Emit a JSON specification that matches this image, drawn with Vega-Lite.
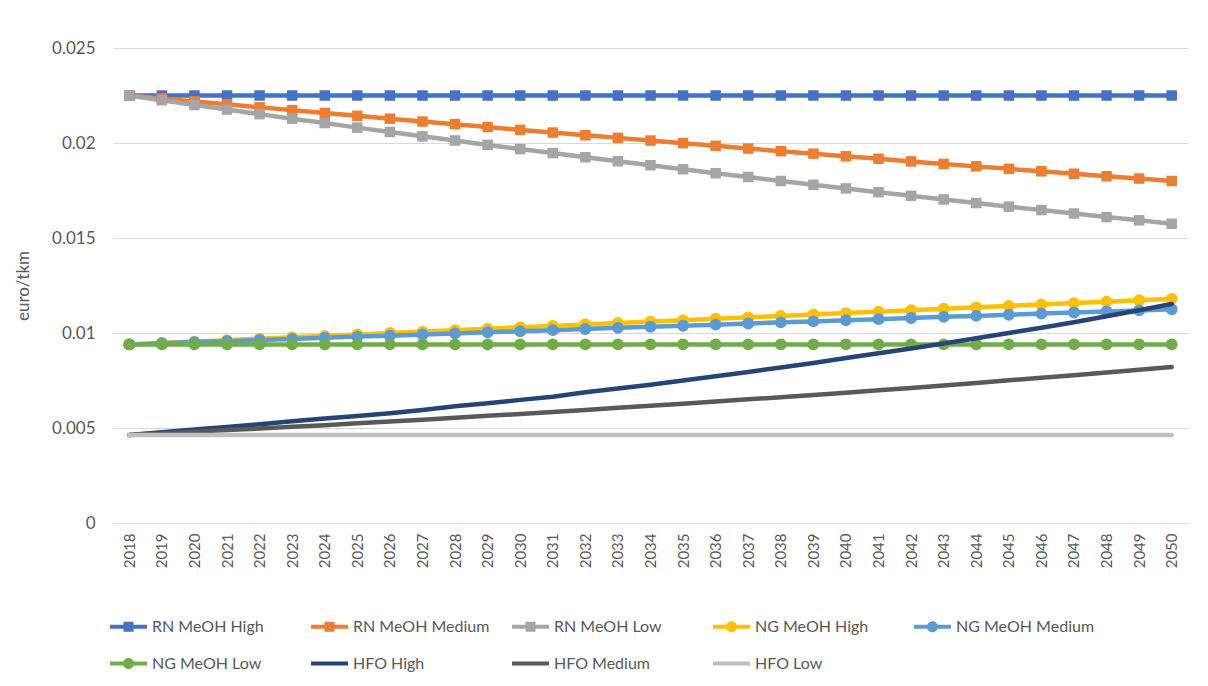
{
  "$schema": "https://vega.github.io/schema/vega-lite/v6.json",
  "width": 1075,
  "height": 475,
  "autosize": "none",
  "padding": {"left": 113, "top": 48, "right": 20, "bottom": 163},
  "background": "white",
  "config": {
    "font": "Lato",
    "view": {"stroke": null},
    "axis": {"labelColor": "#595959", "titleColor": "#595959", "labelFont": "Lato", "titleFont": "Lato"},
    "legend": {"labelColor": "#595959", "labelFont": "Lato"}
  },
  "data": {
    "values": [
      {"year": 2018, "series": "RN MeOH High", "value": 0.0225},
      {"year": 2019, "series": "RN MeOH High", "value": 0.0225},
      {"year": 2020, "series": "RN MeOH High", "value": 0.0225},
      {"year": 2021, "series": "RN MeOH High", "value": 0.0225},
      {"year": 2022, "series": "RN MeOH High", "value": 0.0225},
      {"year": 2023, "series": "RN MeOH High", "value": 0.0225},
      {"year": 2024, "series": "RN MeOH High", "value": 0.0225},
      {"year": 2025, "series": "RN MeOH High", "value": 0.0225},
      {"year": 2026, "series": "RN MeOH High", "value": 0.0225},
      {"year": 2027, "series": "RN MeOH High", "value": 0.0225},
      {"year": 2028, "series": "RN MeOH High", "value": 0.0225},
      {"year": 2029, "series": "RN MeOH High", "value": 0.0225},
      {"year": 2030, "series": "RN MeOH High", "value": 0.0225},
      {"year": 2031, "series": "RN MeOH High", "value": 0.0225},
      {"year": 2032, "series": "RN MeOH High", "value": 0.0225},
      {"year": 2033, "series": "RN MeOH High", "value": 0.0225},
      {"year": 2034, "series": "RN MeOH High", "value": 0.0225},
      {"year": 2035, "series": "RN MeOH High", "value": 0.0225},
      {"year": 2036, "series": "RN MeOH High", "value": 0.0225},
      {"year": 2037, "series": "RN MeOH High", "value": 0.0225},
      {"year": 2038, "series": "RN MeOH High", "value": 0.0225},
      {"year": 2039, "series": "RN MeOH High", "value": 0.0225},
      {"year": 2040, "series": "RN MeOH High", "value": 0.0225},
      {"year": 2041, "series": "RN MeOH High", "value": 0.0225},
      {"year": 2042, "series": "RN MeOH High", "value": 0.0225},
      {"year": 2043, "series": "RN MeOH High", "value": 0.0225},
      {"year": 2044, "series": "RN MeOH High", "value": 0.0225},
      {"year": 2045, "series": "RN MeOH High", "value": 0.0225},
      {"year": 2046, "series": "RN MeOH High", "value": 0.0225},
      {"year": 2047, "series": "RN MeOH High", "value": 0.0225},
      {"year": 2048, "series": "RN MeOH High", "value": 0.0225},
      {"year": 2049, "series": "RN MeOH High", "value": 0.0225},
      {"year": 2050, "series": "RN MeOH High", "value": 0.0225},

      {"year": 2018, "series": "RN MeOH Medium", "value": 0.02250},
      {"year": 2019, "series": "RN MeOH Medium", "value": 0.02234},
      {"year": 2020, "series": "RN MeOH Medium", "value": 0.02219},
      {"year": 2021, "series": "RN MeOH Medium", "value": 0.02204},
      {"year": 2022, "series": "RN MeOH Medium", "value": 0.02188},
      {"year": 2023, "series": "RN MeOH Medium", "value": 0.02173},
      {"year": 2024, "series": "RN MeOH Medium", "value": 0.02158},
      {"year": 2025, "series": "RN MeOH Medium", "value": 0.02143},
      {"year": 2026, "series": "RN MeOH Medium", "value": 0.02128},
      {"year": 2027, "series": "RN MeOH Medium", "value": 0.02113},
      {"year": 2028, "series": "RN MeOH Medium", "value": 0.02099},
      {"year": 2029, "series": "RN MeOH Medium", "value": 0.02084},
      {"year": 2030, "series": "RN MeOH Medium", "value": 0.02069},
      {"year": 2031, "series": "RN MeOH Medium", "value": 0.02055},
      {"year": 2032, "series": "RN MeOH Medium", "value": 0.02041},
      {"year": 2033, "series": "RN MeOH Medium", "value": 0.02027},
      {"year": 2034, "series": "RN MeOH Medium", "value": 0.02013},
      {"year": 2035, "series": "RN MeOH Medium", "value": 0.01999},
      {"year": 2036, "series": "RN MeOH Medium", "value": 0.01985},
      {"year": 2037, "series": "RN MeOH Medium", "value": 0.01971},
      {"year": 2038, "series": "RN MeOH Medium", "value": 0.01957},
      {"year": 2039, "series": "RN MeOH Medium", "value": 0.01944},
      {"year": 2040, "series": "RN MeOH Medium", "value": 0.01930},
      {"year": 2041, "series": "RN MeOH Medium", "value": 0.01917},
      {"year": 2042, "series": "RN MeOH Medium", "value": 0.01903},
      {"year": 2043, "series": "RN MeOH Medium", "value": 0.01890},
      {"year": 2044, "series": "RN MeOH Medium", "value": 0.01877},
      {"year": 2045, "series": "RN MeOH Medium", "value": 0.01864},
      {"year": 2046, "series": "RN MeOH Medium", "value": 0.01851},
      {"year": 2047, "series": "RN MeOH Medium", "value": 0.01838},
      {"year": 2048, "series": "RN MeOH Medium", "value": 0.01825},
      {"year": 2049, "series": "RN MeOH Medium", "value": 0.01813},
      {"year": 2050, "series": "RN MeOH Medium", "value": 0.01800},

      {"year": 2018, "series": "RN MeOH Low", "value": 0.02250},
      {"year": 2019, "series": "RN MeOH Low", "value": 0.02225},
      {"year": 2020, "series": "RN MeOH Low", "value": 0.02200},
      {"year": 2021, "series": "RN MeOH Low", "value": 0.02176},
      {"year": 2022, "series": "RN MeOH Low", "value": 0.02152},
      {"year": 2023, "series": "RN MeOH Low", "value": 0.02128},
      {"year": 2024, "series": "RN MeOH Low", "value": 0.02105},
      {"year": 2025, "series": "RN MeOH Low", "value": 0.02081},
      {"year": 2026, "series": "RN MeOH Low", "value": 0.02058},
      {"year": 2027, "series": "RN MeOH Low", "value": 0.02035},
      {"year": 2028, "series": "RN MeOH Low", "value": 0.02013},
      {"year": 2029, "series": "RN MeOH Low", "value": 0.01990},
      {"year": 2030, "series": "RN MeOH Low", "value": 0.01968},
      {"year": 2031, "series": "RN MeOH Low", "value": 0.01947},
      {"year": 2032, "series": "RN MeOH Low", "value": 0.01925},
      {"year": 2033, "series": "RN MeOH Low", "value": 0.01904},
      {"year": 2034, "series": "RN MeOH Low", "value": 0.01883},
      {"year": 2035, "series": "RN MeOH Low", "value": 0.01862},
      {"year": 2036, "series": "RN MeOH Low", "value": 0.01841},
      {"year": 2037, "series": "RN MeOH Low", "value": 0.01821},
      {"year": 2038, "series": "RN MeOH Low", "value": 0.01800},
      {"year": 2039, "series": "RN MeOH Low", "value": 0.01780},
      {"year": 2040, "series": "RN MeOH Low", "value": 0.01761},
      {"year": 2041, "series": "RN MeOH Low", "value": 0.01741},
      {"year": 2042, "series": "RN MeOH Low", "value": 0.01722},
      {"year": 2043, "series": "RN MeOH Low", "value": 0.01703},
      {"year": 2044, "series": "RN MeOH Low", "value": 0.01684},
      {"year": 2045, "series": "RN MeOH Low", "value": 0.01665},
      {"year": 2046, "series": "RN MeOH Low", "value": 0.01647},
      {"year": 2047, "series": "RN MeOH Low", "value": 0.01629},
      {"year": 2048, "series": "RN MeOH Low", "value": 0.01610},
      {"year": 2049, "series": "RN MeOH Low", "value": 0.01593},
      {"year": 2050, "series": "RN MeOH Low", "value": 0.01575},

      {"year": 2018, "series": "NG MeOH High", "value": 0.00940},
      {"year": 2019, "series": "NG MeOH High", "value": 0.009475},
      {"year": 2020, "series": "NG MeOH High", "value": 0.00955},
      {"year": 2021, "series": "NG MeOH High", "value": 0.009625},
      {"year": 2022, "series": "NG MeOH High", "value": 0.00970},
      {"year": 2023, "series": "NG MeOH High", "value": 0.009775},
      {"year": 2024, "series": "NG MeOH High", "value": 0.00985},
      {"year": 2025, "series": "NG MeOH High", "value": 0.009925},
      {"year": 2026, "series": "NG MeOH High", "value": 0.01000},
      {"year": 2027, "series": "NG MeOH High", "value": 0.010075},
      {"year": 2028, "series": "NG MeOH High", "value": 0.01015},
      {"year": 2029, "series": "NG MeOH High", "value": 0.010225},
      {"year": 2030, "series": "NG MeOH High", "value": 0.01030},
      {"year": 2031, "series": "NG MeOH High", "value": 0.010375},
      {"year": 2032, "series": "NG MeOH High", "value": 0.01045},
      {"year": 2033, "series": "NG MeOH High", "value": 0.010525},
      {"year": 2034, "series": "NG MeOH High", "value": 0.01060},
      {"year": 2035, "series": "NG MeOH High", "value": 0.010675},
      {"year": 2036, "series": "NG MeOH High", "value": 0.01075},
      {"year": 2037, "series": "NG MeOH High", "value": 0.010825},
      {"year": 2038, "series": "NG MeOH High", "value": 0.01090},
      {"year": 2039, "series": "NG MeOH High", "value": 0.010975},
      {"year": 2040, "series": "NG MeOH High", "value": 0.01105},
      {"year": 2041, "series": "NG MeOH High", "value": 0.011125},
      {"year": 2042, "series": "NG MeOH High", "value": 0.01120},
      {"year": 2043, "series": "NG MeOH High", "value": 0.011275},
      {"year": 2044, "series": "NG MeOH High", "value": 0.01135},
      {"year": 2045, "series": "NG MeOH High", "value": 0.011425},
      {"year": 2046, "series": "NG MeOH High", "value": 0.01150},
      {"year": 2047, "series": "NG MeOH High", "value": 0.011575},
      {"year": 2048, "series": "NG MeOH High", "value": 0.01165},
      {"year": 2049, "series": "NG MeOH High", "value": 0.011725},
      {"year": 2050, "series": "NG MeOH High", "value": 0.01180},

      {"year": 2018, "series": "NG MeOH Medium", "value": 0.00940},
      {"year": 2019, "series": "NG MeOH Medium", "value": 0.00946},
      {"year": 2020, "series": "NG MeOH Medium", "value": 0.00952},
      {"year": 2021, "series": "NG MeOH Medium", "value": 0.00957},
      {"year": 2022, "series": "NG MeOH Medium", "value": 0.00963},
      {"year": 2023, "series": "NG MeOH Medium", "value": 0.00969},
      {"year": 2024, "series": "NG MeOH Medium", "value": 0.00975},
      {"year": 2025, "series": "NG MeOH Medium", "value": 0.00981},
      {"year": 2026, "series": "NG MeOH Medium", "value": 0.00986},
      {"year": 2027, "series": "NG MeOH Medium", "value": 0.00992},
      {"year": 2028, "series": "NG MeOH Medium", "value": 0.00998},
      {"year": 2029, "series": "NG MeOH Medium", "value": 0.01004},
      {"year": 2030, "series": "NG MeOH Medium", "value": 0.01009},
      {"year": 2031, "series": "NG MeOH Medium", "value": 0.01015},
      {"year": 2032, "series": "NG MeOH Medium", "value": 0.01021},
      {"year": 2033, "series": "NG MeOH Medium", "value": 0.01027},
      {"year": 2034, "series": "NG MeOH Medium", "value": 0.01033},
      {"year": 2035, "series": "NG MeOH Medium", "value": 0.01038},
      {"year": 2036, "series": "NG MeOH Medium", "value": 0.01044},
      {"year": 2037, "series": "NG MeOH Medium", "value": 0.01050},
      {"year": 2038, "series": "NG MeOH Medium", "value": 0.01056},
      {"year": 2039, "series": "NG MeOH Medium", "value": 0.01061},
      {"year": 2040, "series": "NG MeOH Medium", "value": 0.01067},
      {"year": 2041, "series": "NG MeOH Medium", "value": 0.01073},
      {"year": 2042, "series": "NG MeOH Medium", "value": 0.01079},
      {"year": 2043, "series": "NG MeOH Medium", "value": 0.01085},
      {"year": 2044, "series": "NG MeOH Medium", "value": 0.01090},
      {"year": 2045, "series": "NG MeOH Medium", "value": 0.01096},
      {"year": 2046, "series": "NG MeOH Medium", "value": 0.01102},
      {"year": 2047, "series": "NG MeOH Medium", "value": 0.01108},
      {"year": 2048, "series": "NG MeOH Medium", "value": 0.01113},
      {"year": 2049, "series": "NG MeOH Medium", "value": 0.01119},
      {"year": 2050, "series": "NG MeOH Medium", "value": 0.01125},

      {"year": 2018, "series": "NG MeOH Low", "value": 0.0094},
      {"year": 2019, "series": "NG MeOH Low", "value": 0.0094},
      {"year": 2020, "series": "NG MeOH Low", "value": 0.0094},
      {"year": 2021, "series": "NG MeOH Low", "value": 0.0094},
      {"year": 2022, "series": "NG MeOH Low", "value": 0.0094},
      {"year": 2023, "series": "NG MeOH Low", "value": 0.0094},
      {"year": 2024, "series": "NG MeOH Low", "value": 0.0094},
      {"year": 2025, "series": "NG MeOH Low", "value": 0.0094},
      {"year": 2026, "series": "NG MeOH Low", "value": 0.0094},
      {"year": 2027, "series": "NG MeOH Low", "value": 0.0094},
      {"year": 2028, "series": "NG MeOH Low", "value": 0.0094},
      {"year": 2029, "series": "NG MeOH Low", "value": 0.0094},
      {"year": 2030, "series": "NG MeOH Low", "value": 0.0094},
      {"year": 2031, "series": "NG MeOH Low", "value": 0.0094},
      {"year": 2032, "series": "NG MeOH Low", "value": 0.0094},
      {"year": 2033, "series": "NG MeOH Low", "value": 0.0094},
      {"year": 2034, "series": "NG MeOH Low", "value": 0.0094},
      {"year": 2035, "series": "NG MeOH Low", "value": 0.0094},
      {"year": 2036, "series": "NG MeOH Low", "value": 0.0094},
      {"year": 2037, "series": "NG MeOH Low", "value": 0.0094},
      {"year": 2038, "series": "NG MeOH Low", "value": 0.0094},
      {"year": 2039, "series": "NG MeOH Low", "value": 0.0094},
      {"year": 2040, "series": "NG MeOH Low", "value": 0.0094},
      {"year": 2041, "series": "NG MeOH Low", "value": 0.0094},
      {"year": 2042, "series": "NG MeOH Low", "value": 0.0094},
      {"year": 2043, "series": "NG MeOH Low", "value": 0.0094},
      {"year": 2044, "series": "NG MeOH Low", "value": 0.0094},
      {"year": 2045, "series": "NG MeOH Low", "value": 0.0094},
      {"year": 2046, "series": "NG MeOH Low", "value": 0.0094},
      {"year": 2047, "series": "NG MeOH Low", "value": 0.0094},
      {"year": 2048, "series": "NG MeOH Low", "value": 0.0094},
      {"year": 2049, "series": "NG MeOH Low", "value": 0.0094},
      {"year": 2050, "series": "NG MeOH Low", "value": 0.0094},

      {"year": 2018, "series": "HFO High", "value": 0.00463},
      {"year": 2019, "series": "HFO High", "value": 0.00478},
      {"year": 2020, "series": "HFO High", "value": 0.00492},
      {"year": 2021, "series": "HFO High", "value": 0.00505},
      {"year": 2022, "series": "HFO High", "value": 0.00520},
      {"year": 2023, "series": "HFO High", "value": 0.00535},
      {"year": 2024, "series": "HFO High", "value": 0.00550},
      {"year": 2025, "series": "HFO High", "value": 0.00563},
      {"year": 2026, "series": "HFO High", "value": 0.00578},
      {"year": 2027, "series": "HFO High", "value": 0.00595},
      {"year": 2028, "series": "HFO High", "value": 0.00615},
      {"year": 2029, "series": "HFO High", "value": 0.00630},
      {"year": 2030, "series": "HFO High", "value": 0.00648},
      {"year": 2031, "series": "HFO High", "value": 0.00665},
      {"year": 2032, "series": "HFO High", "value": 0.00688},
      {"year": 2033, "series": "HFO High", "value": 0.00708},
      {"year": 2034, "series": "HFO High", "value": 0.00728},
      {"year": 2035, "series": "HFO High", "value": 0.00750},
      {"year": 2036, "series": "HFO High", "value": 0.00772},
      {"year": 2037, "series": "HFO High", "value": 0.00795},
      {"year": 2038, "series": "HFO High", "value": 0.00818},
      {"year": 2039, "series": "HFO High", "value": 0.00842},
      {"year": 2040, "series": "HFO High", "value": 0.00868},
      {"year": 2041, "series": "HFO High", "value": 0.00893},
      {"year": 2042, "series": "HFO High", "value": 0.00918},
      {"year": 2043, "series": "HFO High", "value": 0.00945},
      {"year": 2044, "series": "HFO High", "value": 0.00972},
      {"year": 2045, "series": "HFO High", "value": 0.01000},
      {"year": 2046, "series": "HFO High", "value": 0.01028},
      {"year": 2047, "series": "HFO High", "value": 0.01057},
      {"year": 2048, "series": "HFO High", "value": 0.01088},
      {"year": 2049, "series": "HFO High", "value": 0.01120},
      {"year": 2050, "series": "HFO High", "value": 0.01153},

      {"year": 2018, "series": "HFO Medium", "value": 0.00463},
      {"year": 2019, "series": "HFO Medium", "value": 0.00471},
      {"year": 2020, "series": "HFO Medium", "value": 0.00480},
      {"year": 2021, "series": "HFO Medium", "value": 0.00489},
      {"year": 2022, "series": "HFO Medium", "value": 0.00497},
      {"year": 2023, "series": "HFO Medium", "value": 0.00506},
      {"year": 2024, "series": "HFO Medium", "value": 0.00515},
      {"year": 2025, "series": "HFO Medium", "value": 0.00525},
      {"year": 2026, "series": "HFO Medium", "value": 0.00534},
      {"year": 2027, "series": "HFO Medium", "value": 0.00544},
      {"year": 2028, "series": "HFO Medium", "value": 0.00554},
      {"year": 2029, "series": "HFO Medium", "value": 0.00564},
      {"year": 2030, "series": "HFO Medium", "value": 0.00574},
      {"year": 2031, "series": "HFO Medium", "value": 0.00584},
      {"year": 2032, "series": "HFO Medium", "value": 0.00595},
      {"year": 2033, "series": "HFO Medium", "value": 0.00606},
      {"year": 2034, "series": "HFO Medium", "value": 0.00617},
      {"year": 2035, "series": "HFO Medium", "value": 0.00628},
      {"year": 2036, "series": "HFO Medium", "value": 0.00639},
      {"year": 2037, "series": "HFO Medium", "value": 0.00651},
      {"year": 2038, "series": "HFO Medium", "value": 0.00662},
      {"year": 2039, "series": "HFO Medium", "value": 0.00674},
      {"year": 2040, "series": "HFO Medium", "value": 0.00686},
      {"year": 2041, "series": "HFO Medium", "value": 0.00699},
      {"year": 2042, "series": "HFO Medium", "value": 0.00711},
      {"year": 2043, "series": "HFO Medium", "value": 0.00724},
      {"year": 2044, "series": "HFO Medium", "value": 0.00737},
      {"year": 2045, "series": "HFO Medium", "value": 0.00751},
      {"year": 2046, "series": "HFO Medium", "value": 0.00764},
      {"year": 2047, "series": "HFO Medium", "value": 0.00778},
      {"year": 2048, "series": "HFO Medium", "value": 0.00792},
      {"year": 2049, "series": "HFO Medium", "value": 0.00806},
      {"year": 2050, "series": "HFO Medium", "value": 0.00821},

      {"year": 2018, "series": "HFO Low", "value": 0.00463},
      {"year": 2019, "series": "HFO Low", "value": 0.00463},
      {"year": 2020, "series": "HFO Low", "value": 0.00463},
      {"year": 2021, "series": "HFO Low", "value": 0.00463},
      {"year": 2022, "series": "HFO Low", "value": 0.00463},
      {"year": 2023, "series": "HFO Low", "value": 0.00463},
      {"year": 2024, "series": "HFO Low", "value": 0.00463},
      {"year": 2025, "series": "HFO Low", "value": 0.00463},
      {"year": 2026, "series": "HFO Low", "value": 0.00463},
      {"year": 2027, "series": "HFO Low", "value": 0.00463},
      {"year": 2028, "series": "HFO Low", "value": 0.00463},
      {"year": 2029, "series": "HFO Low", "value": 0.00463},
      {"year": 2030, "series": "HFO Low", "value": 0.00463},
      {"year": 2031, "series": "HFO Low", "value": 0.00463},
      {"year": 2032, "series": "HFO Low", "value": 0.00463},
      {"year": 2033, "series": "HFO Low", "value": 0.00463},
      {"year": 2034, "series": "HFO Low", "value": 0.00463},
      {"year": 2035, "series": "HFO Low", "value": 0.00463},
      {"year": 2036, "series": "HFO Low", "value": 0.00463},
      {"year": 2037, "series": "HFO Low", "value": 0.00463},
      {"year": 2038, "series": "HFO Low", "value": 0.00463},
      {"year": 2039, "series": "HFO Low", "value": 0.00463},
      {"year": 2040, "series": "HFO Low", "value": 0.00463},
      {"year": 2041, "series": "HFO Low", "value": 0.00463},
      {"year": 2042, "series": "HFO Low", "value": 0.00463},
      {"year": 2043, "series": "HFO Low", "value": 0.00463},
      {"year": 2044, "series": "HFO Low", "value": 0.00463},
      {"year": 2045, "series": "HFO Low", "value": 0.00463},
      {"year": 2046, "series": "HFO Low", "value": 0.00463},
      {"year": 2047, "series": "HFO Low", "value": 0.00463},
      {"year": 2048, "series": "HFO Low", "value": 0.00463},
      {"year": 2049, "series": "HFO Low", "value": 0.00463},
      {"year": 2050, "series": "HFO Low", "value": 0.00463}
    ]
  },
  "encoding": {
    "x": {
      "field": "year",
      "type": "ordinal",
      "scale": {"type": "point", "padding": 0.5},
      "axis": {
        "title": null,
        "labelAngle": 270,
        "labelFontSize": 15,
        "labelPadding": 10,
        "ticks": false,
        "domainColor": "#D9D9D9",
        "domainWidth": 1,
        "grid": false
      }
    },
    "y": {
      "field": "value",
      "type": "quantitative",
      "scale": {"domain": [0, 0.025], "nice": false},
      "axis": {
        "title": "euro/tkm",
        "titleFontSize": 17,
        "titleFontWeight": "normal",
        "titlePadding": 19,
        "values": [0, 0.005, 0.01, 0.015, 0.02, 0.025],
        "format": "~g",
        "labelFontSize": 17,
        "labelPadding": 18,
        "ticks": false,
        "domain": false,
        "grid": true,
        "gridColor": "#D9D9D9",
        "gridWidth": 1
      }
    },
    "color": {
      "field": "series",
      "type": "nominal",
      "scale": {
        "domain": ["RN MeOH High", "RN MeOH Medium", "RN MeOH Low", "NG MeOH High", "NG MeOH Medium", "NG MeOH Low", "HFO High", "HFO Medium", "HFO Low"],
        "range": ["#4472C4", "#ED7D31", "#A5A5A5", "#FFC000", "#5B9BD5", "#70AD47", "#264478", "#595959", "#BFBFBF"]
      },
      "legend": {
        "title": null,
        "orient": "none",
        "legendX": -3,
        "legendY": 560,
        "direction": "horizontal",
        "columns": 5,
        "gridAlign": "all",
        "columnPadding": 20,
        "rowPadding": 10,
        "padding": 0,
        "symbolSize": 1369,
        "labelFontSize": 16,
        "labelOffset": 5,
        "labelLimit": 300,
        "encode": {
          "symbols": {
            "update": {
              "shape": [
                {"test": "indexof(datum.value, 'HFO') === 0", "value": "M-1,-0.11H1V0.11H-1Z"},
                {"test": "indexof(datum.value, 'NG') === 0", "value": "M-1,-0.11H1V0.11H-1Z M-0.3,0A0.3,0.3,0,1,1,0.3,0A0.3,0.3,0,1,1,-0.3,0Z"},
                {"value": "M-1,-0.11H1V0.11H-1Z M-0.27,-0.27H0.27V0.27H-0.27Z"}
              ],
              "fill": {"scale": "color", "field": "value"},
              "fillOpacity": {"value": 1},
              "stroke": {"value": "transparent"},
              "strokeWidth": {"value": 0},
              "size": {"value": 1369}
            }
          }
        }
      }
    }
  },
  "layer": [
    {
      "transform": [{"filter": {"not": {"field": "series", "oneOf": ["HFO High", "HFO Medium", "HFO Low"]}}}],
      "mark": {"type": "line", "strokeWidth": 4.5, "strokeJoin": "round"}
    },
    {
      "transform": [{"filter": {"field": "series", "oneOf": ["RN MeOH High", "RN MeOH Medium", "RN MeOH Low"]}}],
      "mark": {"type": "point", "shape": "square", "filled": true, "opacity": 1, "size": 110}
    },
    {
      "transform": [{"filter": {"field": "series", "oneOf": ["NG MeOH High", "NG MeOH Medium", "NG MeOH Low"]}}],
      "mark": {"type": "point", "shape": "circle", "filled": true, "opacity": 1, "size": 140}
    },
    {
      "transform": [{"filter": {"field": "series", "oneOf": ["HFO High", "HFO Medium", "HFO Low"]}}],
      "mark": {"type": "line", "strokeWidth": 4.5, "strokeCap": "round", "strokeJoin": "round"}
    }
  ]
}
